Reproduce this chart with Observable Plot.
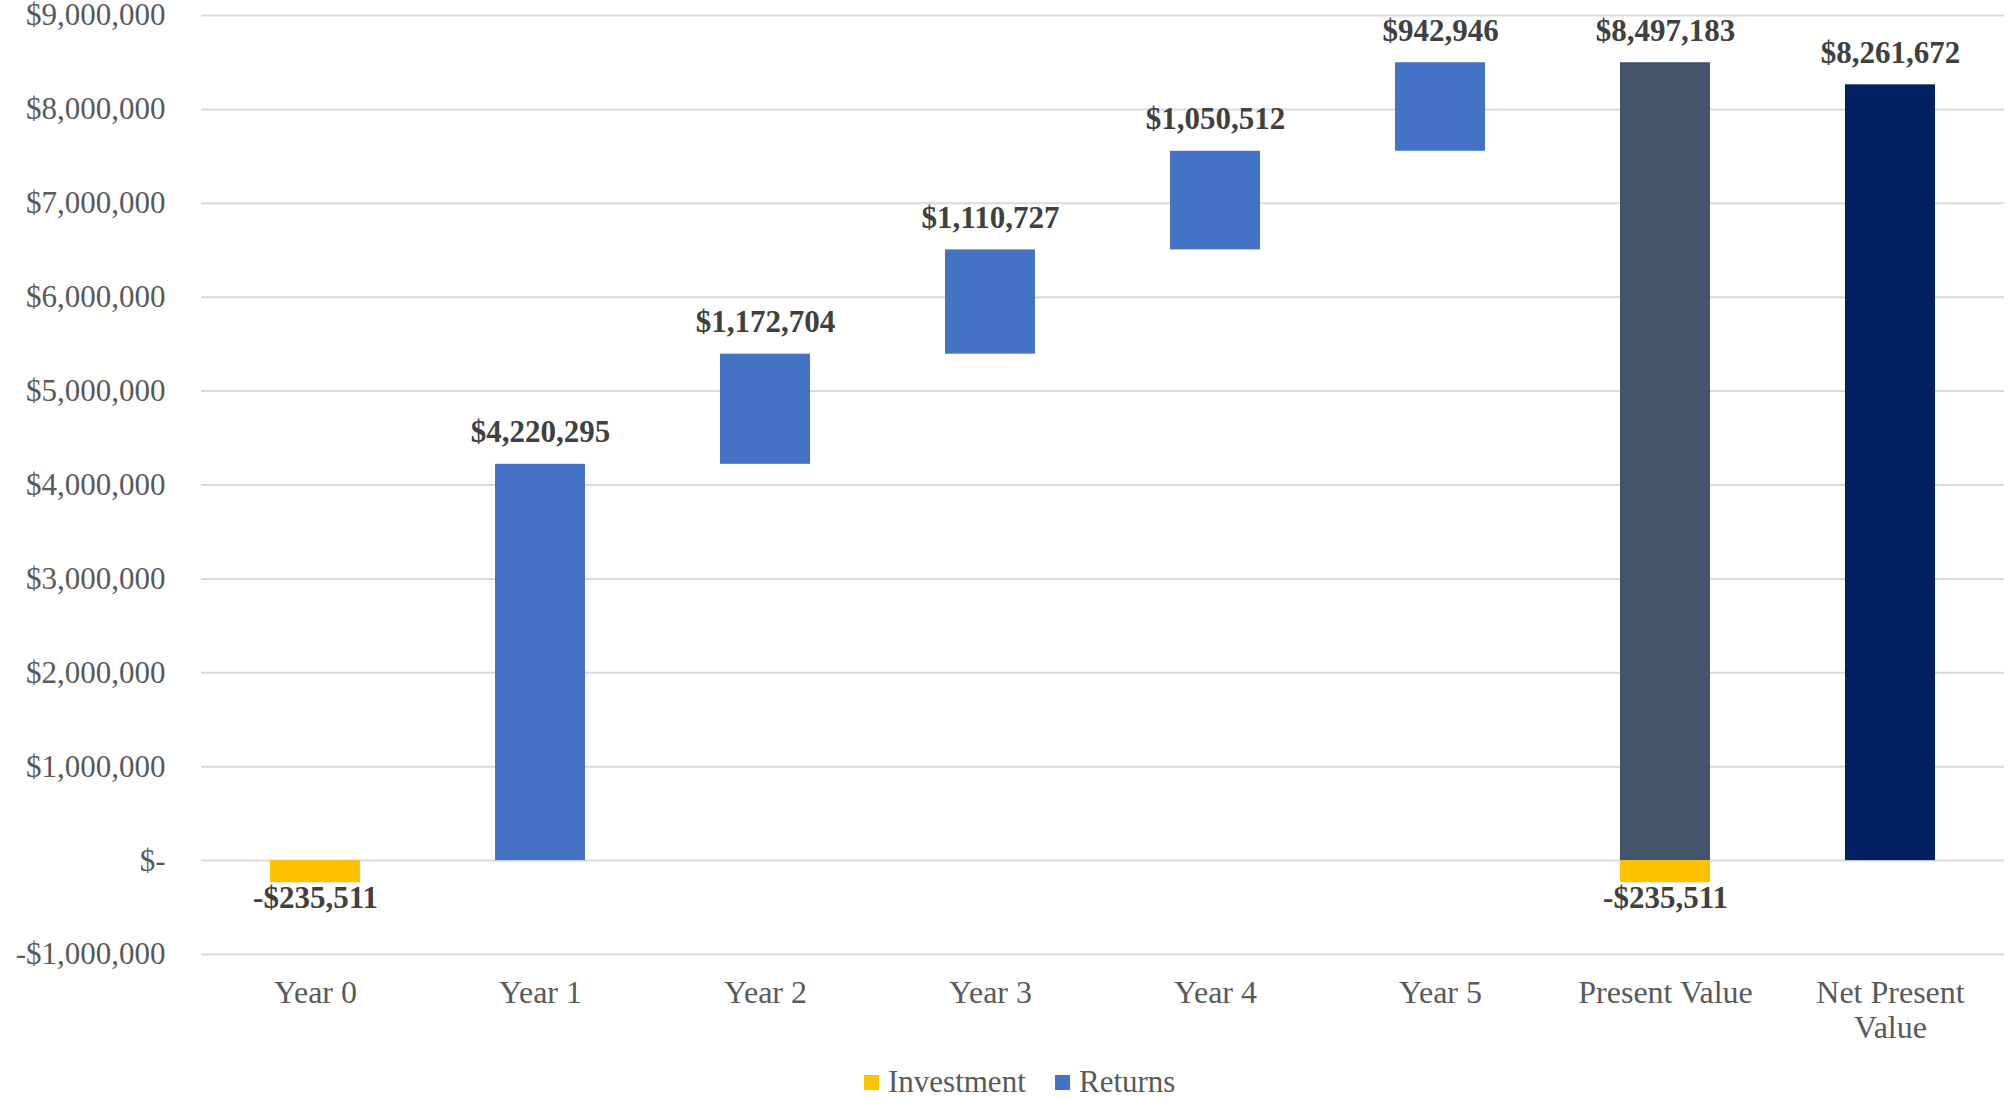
<!DOCTYPE html>
<html>
<head>
<meta charset="utf-8">
<script src="https://cdn.jsdelivr.net/npm/d3@7"></script>
<script src="https://cdn.jsdelivr.net/npm/@observablehq/plot@0.6"></script>
<style>
  html, body { margin: 0; padding: 0; background: #fff; }
  body { width: 2008px; height: 1099px; overflow: hidden; font-family: "Liberation Serif", "Times New Roman", serif; }
  #chart svg { overflow: visible; display: block; }
  #legend { position: relative; height: 49px; width: 2008px; }
  .item { position: absolute; top: 14px; display: flex; align-items: center; font-size: 31px; color: #595959; }
  .sw { width: 15px; height: 15px; margin-right: 9px; }
</style>
</head>
<body>
<div id="chart"></div>
<div id="legend"></div>
<script>
// ---- data ----
const categories = ["Year 0", "Year 1", "Year 2", "Year 3", "Year 4", "Year 5", "Present Value", "Net Present Value"];
const investment = -235511;                       // Year 0 outlay
const yearReturns = [4220295, 1172704, 1110727, 1050512, 942946]; // Year 1..5
const presentValue = 8497183;
const netPresentValue = 8261672;
const yTicks = [-1000000, 0, 1000000, 2000000, 3000000, 4000000, 5000000, 6000000, 7000000, 8000000, 9000000];

const kinds = ["Investment", "Returns", "Present Value", "Net Present Value"];
const kindColors = ["#FFC000", "#4472C4", "#44546A", "#002060"];

// ---- build waterfall rows ----
const cum = Array.from(d3.cumsum(yearReturns));
const rows = [];
rows.push({cat: categories[0], y1: 0, y2: investment, kind: "Investment", value: investment});
yearReturns.forEach((v, i) => {
  rows.push({cat: categories[i + 1], y1: cum[i] - v, y2: cum[i], kind: "Returns", value: v});
});
rows.push({cat: categories[6], y1: 0, y2: presentValue, kind: "Present Value", value: presentValue});
rows.push({cat: categories[6], y1: 0, y2: investment, kind: "Investment", value: investment});
rows.push({cat: categories[7], y1: 0, y2: netPresentValue, kind: "Net Present Value", value: netPresentValue});

const money = v => (v < 0 ? "-$" : "$") + d3.format(",")(Math.abs(v));
const tickFmt = v => v === 0 ? "$-" : money(v);

const pos = rows.filter(d => d.value >= 0);
const neg = rows.filter(d => d.value < 0);

const font = "'Liberation Serif', 'Times New Roman', serif";

const chart = Plot.plot({
  width: 2008,
  height: 1050,
  marginTop: 15,
  marginBottom: 96,
  marginLeft: 201,
  marginRight: 4,
  style: {fontFamily: font, fontSize: "31px", background: "#fff", overflow: "visible"},
  x: {domain: categories, paddingInner: 0.6, paddingOuter: 0.3, label: null},
  y: {domain: [-1000000, 9000000], label: null},
  color: {domain: kinds, range: kindColors},
  marks: [
    Plot.gridY(yTicks, {stroke: "#D9D9D9", strokeOpacity: 1, strokeWidth: 2}),
    Plot.axisY(yTicks, {tickSize: 0, tickPadding: 36, tickFormat: tickFmt, color: "#595959", fontSize: 31, label: null}),
    Plot.axisX({tickSize: 0, tickPadding: 23, color: "#595959", fontSize: 32, lineHeight: 1.1, label: null,
      tickFormat: d => d === "Net Present Value" ? "Net Present\nValue" : d}),
    Plot.barY(rows, {x: "cat", y1: "y1", y2: "y2", fill: "kind"}),
    Plot.text(pos, {x: "cat", y: "y2", text: d => money(d.value), dy: -32, fontSize: 31, fontWeight: "bold", fill: "#404040"}),
    Plot.text(neg, {x: "cat", y: "y2", text: d => money(d.value), dy: 15, fontSize: 31, fontWeight: "bold", fill: "#404040"})
  ]
});
document.getElementById("chart").appendChild(chart);

// ---- legend ----
const legendItems = [{label: "Investment", color: kindColors[0], left: 864}, {label: "Returns", color: kindColors[1], left: 1055}];
const lg = document.getElementById("legend");
legendItems.forEach(it => {
  const el = document.createElement("div");
  el.className = "item";
  el.style.left = it.left + "px";
  el.innerHTML = `<span class="sw" style="background:${it.color}"></span><span>${it.label}</span>`;
  lg.appendChild(el);
});
</script>
</body>
</html>
